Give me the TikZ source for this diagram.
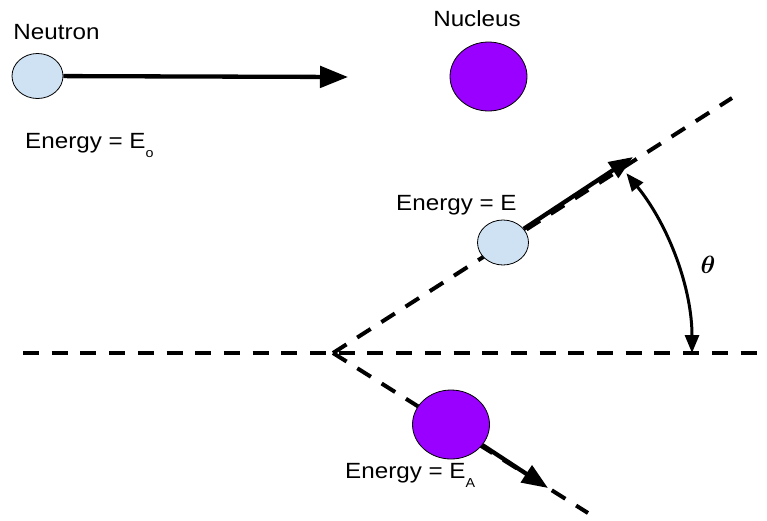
\documentclass[tikz,border=0pt]{standalone}
\usepackage{fontspec}
\setmainfont{Liberation Sans}[FakeStretch=1.1]
\usepackage{amsmath}
\usetikzlibrary{shapes, arrows.meta, positioning, calc}
\definecolor{neutronblue}{RGB}{207, 226, 243}
\definecolor{nucleuspurple}{RGB}{153, 0, 255}
\newcommand{\sublow}[1]{\raisebox{-9.5pt}{\fontsize{13}{14}\selectfont #1}}

\begin{document}
\begin{tikzpicture}[x=1pt, y=-1pt,
  particle/.style={draw, ellipse, line width=0.8pt, inner sep=0pt},
  neutronball/.style={particle, fill=neutronblue, minimum width=51pt, minimum height=45pt},
  nucleusball/.style={particle, fill=nucleuspurple, minimum width=77pt, minimum height=69pt},
  lbl/.style={font=\fontsize{22}{26}\selectfont, inner sep=0pt},
  track/.style={line width=4pt, dash pattern=on 16pt off 12.7pt},
  push/.style={line width=4.3pt, -{Triangle[length=#1, width=0.76*#1]}}
]
  \useasboundingbox (0,0) rectangle (767,520);

  % scattering lines
  \coordinate (vertex) at (333,353);
  \coordinate (axisL) at (23,353);
  \coordinate (axisR) at (767,353);
  \coordinate (upEnd) at (732,98);
  \coordinate (lowEnd) at (588,513);
  \draw[track] (axisL) -- (axisR);
  \draw[track] (vertex) -- (upEnd);
  \draw[track] (vertex) -- (lowEnd);

  % particles
  \node[neutronball] (neutron) at (37.5,76) {};
  \node[nucleusball] (nucleus) at (488.5,76.5) {};
  \node[neutronball] (scattered) at (503,242.5) {};
  \node[nucleusball] (recoil) at (451,424.5) {};

  \node[lbl, anchor=base] (neutronlbl) at (56.5,39) {Neutron};
  \node[lbl, anchor=base] (nucleuslbl) at (477,26) {Nucleus};
  \node[lbl, anchor=base west] (eolbl) at (25,148) {Energy = E\sublow{o}};
  \node[lbl, anchor=base west] (elbl) at (396,210) {Energy = E};
  \node[lbl, anchor=base west] (ealbl) at (345,478) {Energy = E\sublow{A}};
  \node[inner sep=0pt] (thetalbl) at (708,265) {\fontsize{28}{32}\selectfont$\boldsymbol{\theta}$};

  % motion arrows
  \coordinate (inTip) at (348,77);
  \coordinate (scatTip) at (633,157);
  \coordinate (recoilTip) at (548,488);
  \draw[push=28pt] (neutron) -- (inTip);
  \draw[push=24pt] (scattered) -- (scatTip);
  \draw[push=26pt] (recoil) -- (recoilTip);

  % angle
  \coordinate (arcFoot) at (692,353);
  \draw[line width=3pt, {Triangle[length=18pt, width=14pt]}-{Triangle[length=18pt, width=14pt]}]
    (arcFoot) arc[start angle=0, end angle=35.2, x radius=359pt, y radius=312pt];
\end{tikzpicture}
\end{document}
